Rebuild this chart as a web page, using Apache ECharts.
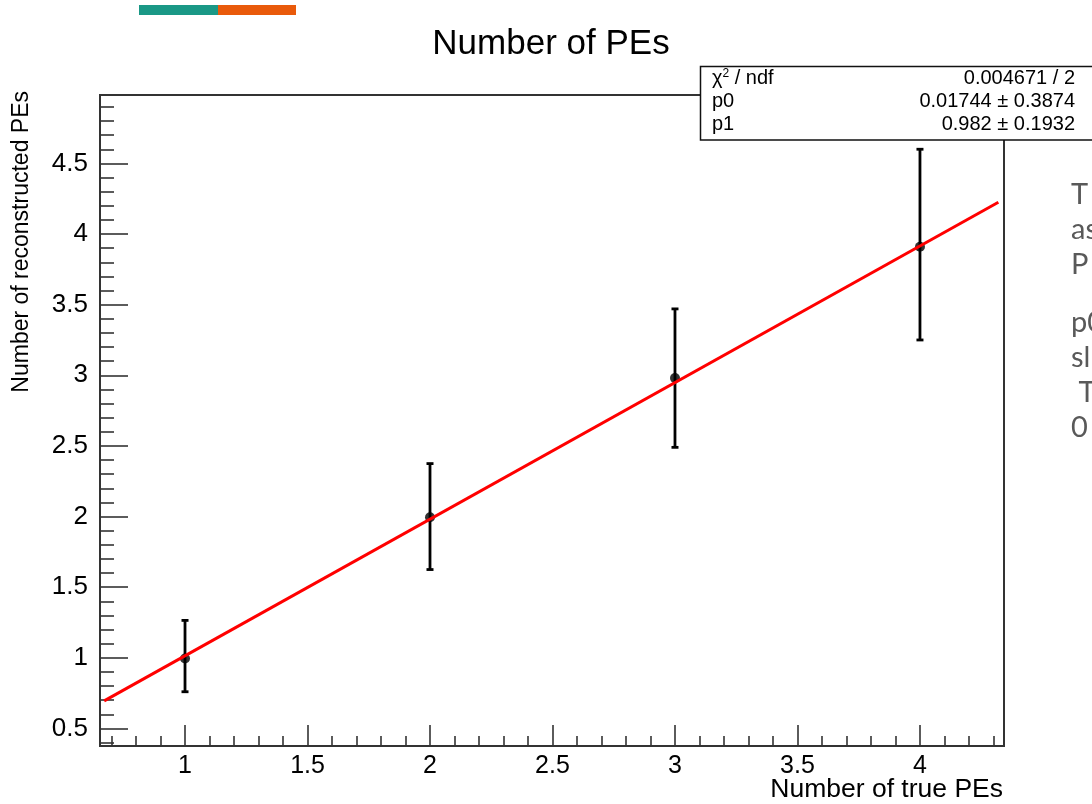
<!DOCTYPE html>
<html>
<head>
<meta charset="utf-8">
<script src="https://cdn.jsdelivr.net/npm/echarts@6/dist/echarts.min.js"></script>
<style>
html,body{margin:0;padding:0;background:#fff;}
#c{width:1092px;height:804px;}
</style>
</head>
<body>
<div id="c"></div>
<script>
// ---- data ----
const truePEs = [1, 2, 3, 4];
const recoPEs = [0.995, 1.995, 2.98, 3.91];
const errLow = [0.76, 1.625, 2.49, 3.25];
const errHigh = [1.265, 2.375, 3.47, 4.60];
const fitLine = [[0.67, 0.695], [4.32, 4.225]];
const xMajorTicks = [1, 1.5, 2, 2.5, 3, 3.5, 4];
const xMinorTicks = [0.7,0.8,0.9,1.1,1.2,1.3,1.4,1.6,1.7,1.8,1.9,2.1,2.2,2.3,2.4,2.6,2.7,2.8,2.9,3.1,3.2,3.3,3.4,3.6,3.7,3.8,3.9,4.1,4.2,4.3];
const yMajorTicks = [0.5, 1, 1.5, 2, 2.5, 3, 3.5, 4, 4.5];
const yMinorTicks = [0.4,0.6,0.7,0.8,0.9,1.1,1.2,1.3,1.4,1.6,1.7,1.8,1.9,2.1,2.2,2.3,2.4,2.6,2.7,2.8,2.9,3.1,3.2,3.3,3.4,3.6,3.7,3.8,3.9,4.1,4.2,4.3,4.4,4.6,4.7,4.8,4.9];
const statsRows = [
  ['{n|χ}{s|2}{n| / ndf}', '0.004671 / 2'],
  ['p0', '0.01744 ± 0.3874'],
  ['p1', '0.982 ± 0.1932']
];
const sideText = ['T', 'as', 'P', '', 'p0', 'sl', ' T', '0'];

const FONT = 'Liberation Sans, Arial, Helvetica, sans-serif';
const X_MIN = 0.653, X_MAX = 4.343, Y_MIN = 0.376, Y_MAX = 4.984;

const chart = echarts.init(document.getElementById('c'), null, {renderer: 'canvas'});

const errData = truePEs.map((x, i) => [x, recoPEs[i], errLow[i], errHigh[i]]);

const graphics = [
  {type: 'rect', shape: {x: 139, y: 5, width: 79, height: 10}, style: {fill: '#1a9886'}},
  {type: 'rect', shape: {x: 218, y: 5, width: 78, height: 10}, style: {fill: '#e95a0b'}},
  {type: 'text', x: 551, y: 44, style: {text: 'Number of PEs', font: '35px ' + FONT, fill: '#000', align: 'center', verticalAlign: 'middle'}},
  {type: 'text', x: 22, y: 91, rotation: Math.PI / 2, style: {text: 'Number of reconstructed PEs', font: '23px ' + FONT, fill: '#000', align: 'right', verticalAlign: 'middle'}},
  {type: 'text', x: 1003, y: 790, style: {text: 'Number of true PEs', font: '26.5px ' + FONT, fill: '#000', align: 'right', verticalAlign: 'middle'}},
  {type: 'rect', z: 10, shape: {x: 700.5, y: 66.5, width: 420, height: 73.5}, style: {fill: '#fff', stroke: '#111', lineWidth: 1.5}}
];
const rowY = [78, 101, 124];
statsRows.forEach((r, i) => {
  graphics.push({type: 'text', z: 11, x: 712, y: rowY[i], style: {
    text: r[0], fill: '#000', font: '20px ' + FONT, align: 'left', verticalAlign: 'middle',
    rich: {n: {font: '20px ' + FONT, fill: '#000'}, s: {font: '12px ' + FONT, fill: '#000', verticalAlign: 'top', padding: [0, 0, 9, 0]}}
  }});
  graphics.push({type: 'text', z: 11, x: 1075, y: rowY[i], style: {text: r[1], fill: '#000', font: '20px ' + FONT, align: 'right', verticalAlign: 'middle'}});
});
const sideY = [195, 230, 265, 0, 323, 358, 393, 428];
sideText.forEach((t, i) => {
  if (!t) return;
  graphics.push({type: 'text', x: 1071, y: sideY[i], style: {text: t, fill: '#595959', font: '29px Lato, "Open Sans", sans-serif', align: 'left', verticalAlign: 'middle'}});
});

const tickStyle = {color: '#333', width: 1.6};
const option = {
  animation: false,
  backgroundColor: '#fff',
  grid: {left: 100, right: 88, top: 95, bottom: 58, show: true, borderColor: '#333', borderWidth: 2, backgroundColor: '#fff'},
  xAxis: [
    {type: 'value', min: X_MIN, max: X_MAX, position: 'bottom',
      axisLine: {show: false}, splitLine: {show: false},
      axisTick: {show: true, inside: true, length: 21, lineStyle: tickStyle, customValues: xMajorTicks},
      axisLabel: {show: true, customValues: xMajorTicks, margin: 8, fontSize: 25, fontFamily: FONT, color: '#000', showMinLabel: true, showMaxLabel: true}},
    {type: 'value', min: X_MIN, max: X_MAX, position: 'bottom',
      axisLine: {show: false}, splitLine: {show: false},
      axisTick: {show: true, inside: true, length: 10, lineStyle: tickStyle, customValues: xMinorTicks},
      axisLabel: {show: false}}
  ],
  yAxis: [
    {type: 'value', min: Y_MIN, max: Y_MAX, position: 'left',
      axisLine: {show: false}, splitLine: {show: false},
      axisTick: {show: true, inside: true, length: 28, lineStyle: tickStyle, customValues: yMajorTicks},
      axisLabel: {show: true, customValues: yMajorTicks, margin: 12, fontSize: 26, fontFamily: FONT, color: '#000'}},
    {type: 'value', min: Y_MIN, max: Y_MAX, position: 'left',
      axisLine: {show: false}, splitLine: {show: false},
      axisTick: {show: true, inside: true, length: 14, lineStyle: tickStyle, customValues: yMinorTicks},
      axisLabel: {show: false}}
  ],
  series: [
    {type: 'custom', xAxisIndex: 0, yAxisIndex: 0, data: errData, z: 3,
      renderItem: function (params, api) {
        const x = api.value(0);
        const lo = api.coord([x, api.value(2)]);
        const hi = api.coord([x, api.value(3)]);
        const cap = 3.5;
        const st = {stroke: '#000', lineWidth: 2.8};
        return {type: 'group', children: [
          {type: 'line', shape: {x1: lo[0], y1: lo[1], x2: hi[0], y2: hi[1]}, style: st},
          {type: 'line', shape: {x1: lo[0] - cap, y1: lo[1], x2: lo[0] + cap, y2: lo[1]}, style: st},
          {type: 'line', shape: {x1: hi[0] - cap, y1: hi[1], x2: hi[0] + cap, y2: hi[1]}, style: st}
        ]};
      }},
    {type: 'scatter', xAxisIndex: 0, yAxisIndex: 0, data: truePEs.map((x, i) => [x, recoPEs[i]]), symbol: 'circle', symbolSize: 10, itemStyle: {color: '#000'}, z: 4},
    {type: 'line', xAxisIndex: 0, yAxisIndex: 0, data: fitLine, symbol: 'none', lineStyle: {color: '#ff0000', width: 3}, z: 5}
  ],
  graphic: graphics
};
chart.setOption(option);
</script>
</body>
</html>
